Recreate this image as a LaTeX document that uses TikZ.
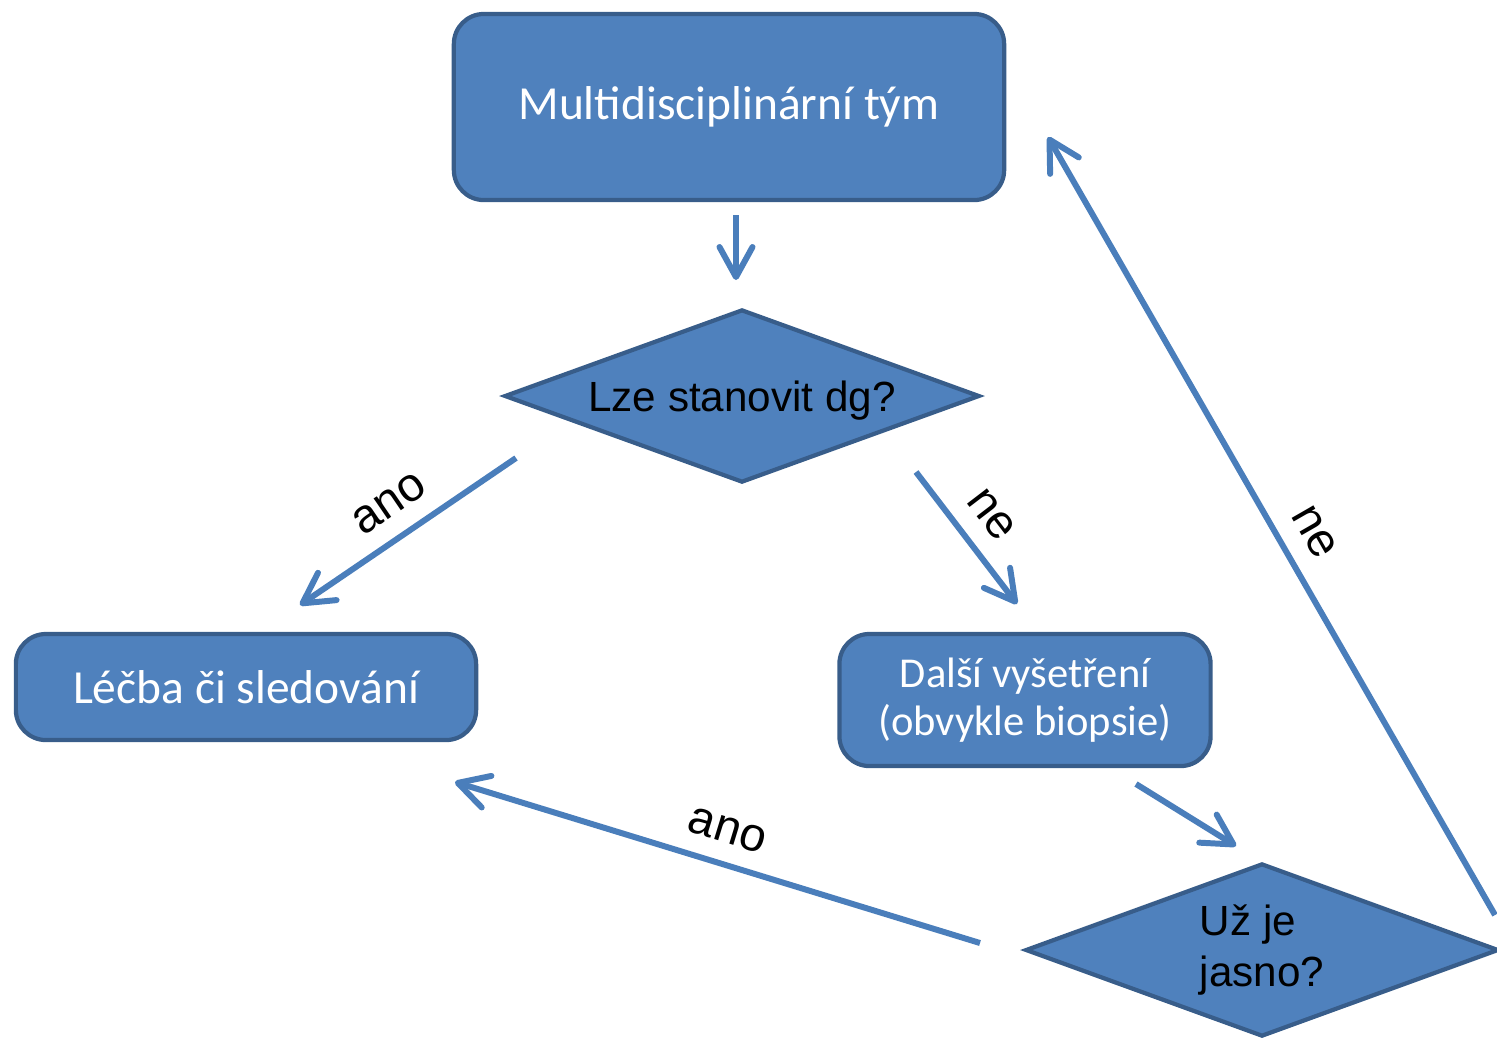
\documentclass[tikz,border=0pt]{standalone}
\usepackage{fontspec}
\setmainfont{Liberation Sans}
\newfontfamily\boxfont{Carlito}
\usetikzlibrary{arrows.meta, shapes.geometric}
\definecolor{boxfill}{HTML}{4F81BD}
\definecolor{boxline}{HTML}{385D8A}
\definecolor{arrowblue}{HTML}{4A7EBB}
\tikzset{%
   stepbox/.style={
      rectangle,
      rounded corners=.3cm,
      draw=boxline,
      fill=boxfill,
      line width=1.2pt,
      text=white,
      align=center,
      font=\boxfont\fontsize{13.5}{13.7}\selectfont
   },
   decision/.style={
      diamond,
      aspect=2.75,
      draw=boxline,
      fill=boxfill,
      line width=1.2pt,
      inner sep=0pt,
      text=black,
      font=\fontsize{12}{14.5}\selectfont
   },
   flow/.style={
      draw=arrowblue,
      line width=1.7pt,
      -{Straight Barb[length=3mm, width=3.3mm, round]}
   },
   flowlabel/.style={
      font=\fontsize{13.5}{14}\selectfont,
      text=black,
      sloped,
      above,
      inner sep=5pt
   },
}

\begin{document}
\begin{tikzpicture}[x=0.01cm, y=-0.01cm]
   \useasboundingbox (0,0) rectangle (1497,1038);
   % boxes
   \node[stepbox, minimum width=5.5cm, minimum height=1.86cm] (team) at (729,107) {Multidisciplinární tým};
   \node[decision, minimum width=4.75cm, minimum height=1.73cm,
         text height=1em, text depth=.14em] (dg) at (742,396) {Lze stanovit dg?};
   \node[stepbox, minimum width=4.6cm, minimum height=1.06cm] (care) at (246,687) {Léčba či sledování};
   \node[stepbox, minimum width=3.71cm, minimum height=1.32cm,
         font=\boxfont\fontsize{12.1}{13.7}\selectfont] (exam) at (1025,700) {Další vyšetření\\(obvykle biopsie)};
   \node[decision, minimum width=4.73cm, minimum height=1.73cm, align=left] (clear) at (1262,950) {Už je\\jasno?};
   % connectors
   \draw[flow] ([shift={(7,108)}]team.center) -- ([shift={(-6,-116)}]dg.center);
   \draw[flow] ([shift={(-226,62)}]dg.center) -- node[flowlabel, pos=.5] {ano} ([shift={(54,-82)}]care.center);
   \draw[flow] ([shift={(174,76)}]dg.center) -- node[flowlabel, pos=.48] {ne} ([shift={(-8,-96)}]exam.center);
   \draw[flow] ([shift={(111,84)}]exam.center) -- ([shift={(-26,-104)}]clear.center);
   \draw[flow] ([shift={(233,-35)}]clear.center) -- node[flowlabel, pos=.47] {ne} ([shift={(319,30)}]team.center);
   \draw[flow] ([shift={(-282,-7)}]clear.center) -- node[flowlabel, pos=.5] {ano} ([shift={(209,95)}]care.center);
\end{tikzpicture}
\end{document}
